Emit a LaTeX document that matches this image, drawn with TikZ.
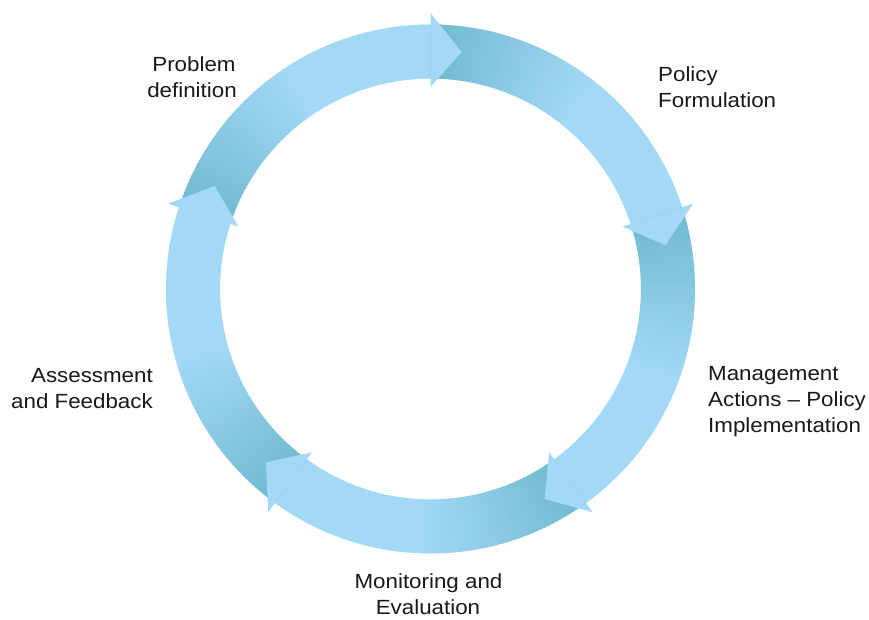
\documentclass[tikz,border=0pt]{standalone}
\usepackage{fontspec}
\setmainfont{Liberation Sans}
\newfontfamily\lblfont[FakeStretch=1.09]{Liberation Sans}
\definecolor{lightb}{RGB}{163,217,246}
\definecolor{darkb}{RGB}{112,185,207}
\begin{document}
\begin{tikzpicture}[x=1pt,y=1pt,
  lbl/.style={font=\lblfont\fontsize{20.5}{26}\selectfont, inner sep=0pt, text=black!90}]
\useasboundingbox (0,0) rectangle (869,620);
\fill[white] (0,0) rectangle (869,620);
\coordinate (C) at (430.5,331);
\def\Rin{210.5}
\def\Rout{264.5}
% ring bodies with gradient from dark (start) to light (end)
\begin{scope}[shift={(C)}]
\foreach \k in {0,...,4}{
  \pgfmathsetmacro\s{162-72*\k}
  \foreach \i in {0,...,71}{
    \pgfmathsetmacro\t{\s-\i}
    \pgfmathsetmacro\te{\t-1.6}
    \pgfmathtruncatemacro\pct{min(100,(\i+0.5)*2.6)}
    \fill[lightb!\pct!darkb] (\t:\Rin) arc[start angle=\t,end angle=\te,radius=\Rin]
      -- (\te:\Rout) arc[start angle=\te,end angle=\t,radius=\Rout] -- cycle;
  }
}
% arrowheads
\foreach \k in {0,...,4}{
  \pgfmathsetmacro\e{90-72*\k}
  \pgfmathsetmacro\tp{\e-7.5}
  \fill[lightb] (\e:202) -- (\e:276) -- (\tp:239) -- cycle;
}
\end{scope}
% labels
\node[lbl, anchor=base] (pd1) at (194,548) {Problem};
\node[lbl, anchor=base] (pd2) at (192,522) {definition};
\node[lbl, anchor=base west] (pf1) at (658,538.5) {Policy};
\node[lbl, anchor=base west] (pf2) at (658,512.5) {Formulation};
\node[lbl, anchor=base west] (ma1) at (708,239) {Management};
\node[lbl, anchor=base west] (ma2) at (708,213) {Actions – Policy};
\node[lbl, anchor=base west] (ma3) at (708,187) {Implementation};
\node[lbl, anchor=base east] (af1) at (153,237.5) {Assessment};
\node[lbl, anchor=base east] (af2) at (153,211.5) {and Feedback};
\node[lbl, anchor=base] (me1) at (428.5,31.5) {Monitoring and};
\node[lbl, anchor=base] (me2) at (428,5.5) {Evaluation};
\end{tikzpicture}
\end{document}
